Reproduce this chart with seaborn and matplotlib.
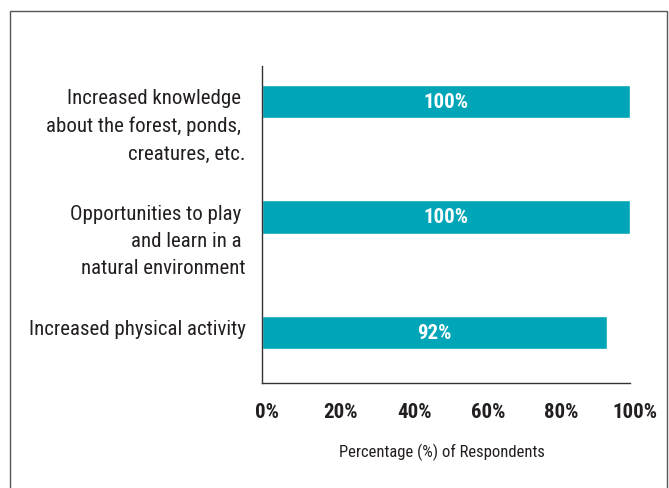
import matplotlib
matplotlib.use('Agg')
import matplotlib.pyplot as plt
import matplotlib.patches as mpatches
import matplotlib.transforms as mtransforms
from matplotlib import font_manager
import pandas as pd
import seaborn as sns

# data
categories = [
    'Increased knowledge \nabout the forest, ponds, \ncreatures, etc.',
    'Opportunities to play \nand learn in a \nnatural environment',
    'Increased physical activity',
]
values = [100, 100, 93.7]
bar_labels = ['100%', '100%', '92%']
x_ticks = [0, 20, 40, 60, 80, 100]
x_tick_labels = ['0%', '20%', '40%', '60%', '80%', '100%']

TEAL = '#00A6B7'
TEXT = '#231F20'

# pick a condensed sans close to the original's News Gothic look
installed = {f.name for f in font_manager.fontManager.ttflist}
font = next((f for f in ['Roboto Condensed', 'Archivo Narrow', 'Fira Sans Condensed',
                         'PT Sans Narrow', 'News Cycle'] if f in installed), 'DejaVu Sans')

sns.set_style('white')
plt.rcParams['font.family'] = [font, 'DejaVu Sans']

df = pd.DataFrame({'item': range(len(categories)), 'pct': values})

fig = plt.figure(figsize=(6.69, 4.89), dpi=100)
ax = fig.add_axes([0.3916, 0.2147, 0.5501, 0.6483])

sns.barplot(data=df, x='pct', y='item', orient='h', color=TEAL,
            width=0.286, saturation=1, ax=ax)

ax.set_xlim(0, 100)
ax.set_ylim(2.437, -0.307)

# category labels beside the bars
trans = mtransforms.blended_transform_factory(ax.transAxes, ax.transData)
offset = mtransforms.ScaledTranslation(-16 / 100, -4 / 100, fig.dpi_scale_trans)
for i, lab in enumerate(categories):
    ax.text(0, i - 0.15, lab, transform=trans + offset, ha='right', va='top',
            fontsize=15, color=TEXT, linespacing=1.55, multialignment='right')

ax.set_yticks([])
ax.set_ylabel('')

# value labels inside bars
for i, (v, lab) in enumerate(zip(values, bar_labels)):
    ax.text(v / 2, i, lab, ha='center', va='center', color='white',
            fontsize=15, fontweight='bold')

ax.set_xticks(x_ticks)
ax.set_xticklabels(x_tick_labels, fontsize=15, fontweight='bold', color=TEXT)
ax.tick_params(axis='x', direction='out', length=4, width=1, color='#333333', pad=9.5)
ax.set_xlabel('Percentage (%) of Respondents', fontsize=12, color=TEXT, labelpad=16)
ax.xaxis.label.set_x(0.489)

# tick labels sit a little right of their ticks in the original
shift = mtransforms.ScaledTranslation(5 / 100, 0, fig.dpi_scale_trans)
for t in ax.get_xticklabels():
    t.set_transform(t.get_transform() + shift)

for side in ['top', 'right']:
    ax.spines[side].set_visible(False)
for side in ['left', 'bottom']:
    ax.spines[side].set_color('#333333')
    ax.spines[side].set_linewidth(1)

# outer frame
frame = mpatches.Rectangle((10 / 669, -0.1), 657 / 669, 1.0755, transform=fig.transFigure,
                           fill=False, edgecolor='#555555', linewidth=1, clip_on=False)
fig.patches.append(frame)

fig.savefig('out.png', dpi=100)
